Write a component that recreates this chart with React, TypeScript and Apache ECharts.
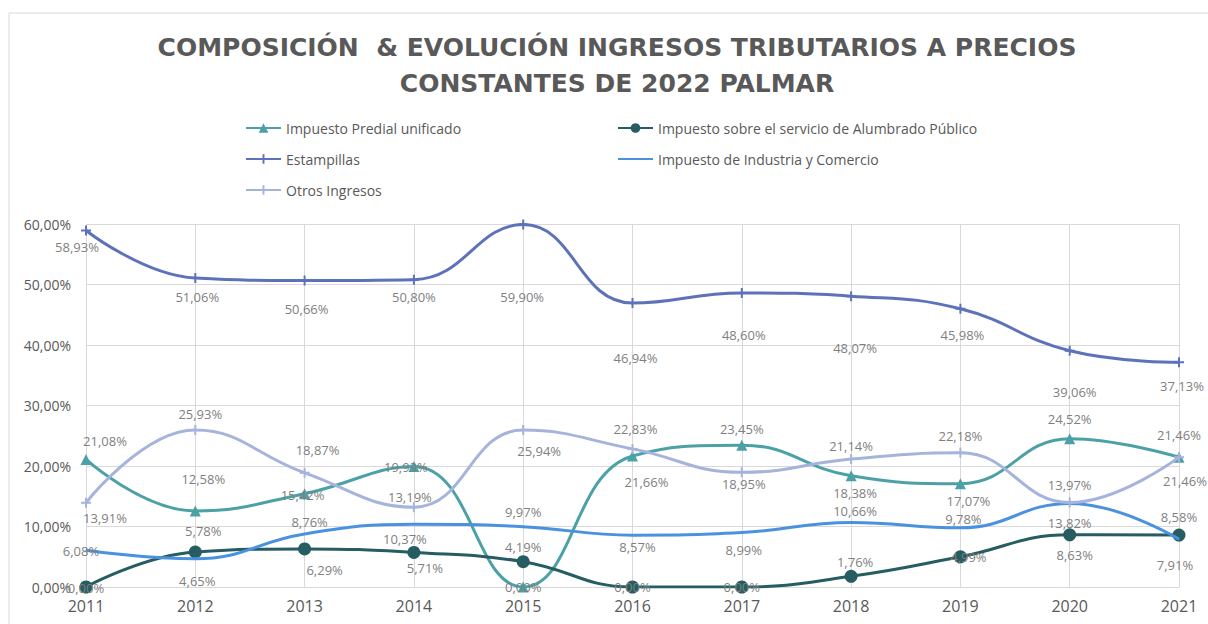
import React, { useEffect, useRef } from "react";
import * as echarts from "echarts";

const years = ["2011", "2012", "2013", "2014", "2015", "2016", "2017", "2018", "2019", "2020", "2021"];
const predial = [21.08, 12.58, 15.42, 19.93, 0.0, 21.66, 23.45, 18.38, 17.07, 24.52, 21.46];
const alumbrado = [0.0, 5.78, 6.29, 5.71, 4.19, 0.0, 0.0, 1.76, 4.99, 8.63, 8.58];
const estampillas = [58.93, 51.06, 50.66, 50.8, 59.9, 46.94, 48.6, 48.07, 45.98, 39.06, 37.13];
const industria = [6.08, 4.65, 8.76, 10.37, 9.97, 8.57, 8.99, 10.66, 9.78, 13.82, 7.91];
const otros = [13.91, 25.93, 18.87, 13.19, 25.94, 22.83, 18.95, 21.14, 22.18, 13.97, 21.46];
const yTicks = [0, 10, 20, 30, 40, 50, 60];

const seriesNames = [
  "Impuesto Predial unificado",
  "Impuesto sobre el servicio de Alumbrado Público",
  "Estampillas",
  "Impuesto de Industria y Comercio",
  "Otros Ingresos",
];

// label offsets (layout only)
const predialOff = [[19, -18], [8, -32], [-2, 1], [-8, 1], [0, 0], [14, 26], [0, -16], [4, 17], [8, 17], [0, -20], [0, -22]];
const alumbradoOff = [[0, 1], [8, -21], [20, 21], [11, 16], [0, -15], [0, 0], [0, 0], [4, -14], [8, 0], [5, 20], [0, -18]];
const estampillasOff = [[-9, 17], [2, 19], [2, 28], [0, 17], [-1, 72], [3, 55], [2, 42], [4, 52], [2, 26], [5, 41], [3, 24]];
const industriaOff = [[-5, 1], [2, 22], [5, -12], [-9, 15], [0, -15], [5, 12], [2, 17], [4, -12], [3, -9], [0, 20], [-4, 26]];
const otrosOff = [[19, 15], [5, -16], [13, -23], [-4, -10], [16, 21], [3, -20], [2, 12], [0, -13], [0, -17], [0, -17], [6, 24]];

const fmt = (v: number) => v.toFixed(2).replace(".", ",") + "%";
const PLUS = "path://M4,0H6V4H10V6H6V10H4V6H0V4H4Z";

function build(values: number[], offs: number[][]) {
  return values.map((v, i) => ({ value: v, label: { offset: offs[i] } }));
}

export default function App() {
  const ref = useRef<HTMLDivElement>(null);
  useEffect(() => {
    if (!ref.current) return;
    const chart = echarts.init(ref.current, null, { renderer: "svg" });
    const labelBase = {
      show: true,
      position: "inside",
      color: "#7f7f7f",
      fontSize: 13,
      fontFamily: "Open Sans",
      formatter: (p: any) => fmt(p.value),
    };
    const mk = (name: string, data: any[], color: string, symbol: string, size: number, z: number) => ({
      name,
      type: "line",
      smooth: 0.45,
      data,
      symbol,
      symbolSize: size,
      showSymbol: true,
      z,
      lineStyle: { color, width: 3 },
      itemStyle: { color },
      label: labelBase,
      emphasis: { disabled: true },
    });
    const legendText = { color: "#595959", fontSize: 14, fontFamily: "Open Sans" };
    const legendPos = [
      [240, 116],
      [612, 116],
      [240, 147],
      [612, 147],
      [240, 178],
    ];
    chart.setOption({
      animation: false,
      backgroundColor: "#ffffff",
      title: {
        text: "COMPOSICIÓN  & EVOLUCIÓN INGRESOS TRIBUTARIOS A PRECIOS\nCONSTANTES DE 2022 PALMAR",
        left: 612,
        top: 24,
        textAlign: "center",
        textStyle: {
          color: "#595959",
          fontSize: 25,
          fontWeight: "bold",
          fontFamily: "DejaVu Sans",
          lineHeight: 36,
        },
      },
      graphic: [
        {
          type: "rect",
          shape: { x: 9, y: 13, width: 1260, height: 700 },
          style: { fill: "none", stroke: "#d9d9d9", lineWidth: 1 },
          silent: true,
        },
      ],
      legend: seriesNames.map((n, i) => ({
        data: i === 3 ? [{ name: n, itemStyle: { opacity: 0 } }] : [n],
        left: legendPos[i][0],
        top: legendPos[i][1],
        itemWidth: 35,
        itemHeight: 12,
        textStyle: legendText,
        selectedMode: false,
      })),
      grid: { left: 86, right: 29, top: 224, bottom: 37 },
      xAxis: {
        type: "category",
        data: years,
        boundaryGap: false,
        axisLine: { show: true, lineStyle: { color: "#d9d9d9" } },
        axisTick: { show: false },
        splitLine: { show: true, lineStyle: { color: "#d9d9d9" } },
        axisLabel: { color: "#595959", fontSize: 16, fontFamily: "Open Sans", margin: 11 },
      },
      yAxis: {
        type: "value",
        min: yTicks[0],
        max: yTicks[yTicks.length - 1],
        interval: 10,
        axisLine: { show: false },
        axisTick: { show: false },
        splitLine: { show: true, lineStyle: { color: "#d9d9d9" } },
        axisLabel: { color: "#595959", fontSize: 14, fontFamily: "Open Sans", margin: 15, formatter: (v: number) => fmt(v) },
      },
      series: [
        mk(seriesNames[0], build(predial, predialOff), "#4ba1a6", "triangle", 11, 2),
        mk(seriesNames[1], build(alumbrado, alumbradoOff), "#255d62", "circle", 13, 3),
        mk(seriesNames[2], build(estampillas, estampillasOff), "#5d72b9", PLUS, 10, 4),
        mk(seriesNames[3], build(industria, industriaOff), "#4a92e0", "circle", 1, 5),
        mk(seriesNames[4], build(otros, otrosOff), "#a6b4dc", PLUS, 10, 6),
      ],
    });
    return () => chart.dispose();
  }, []);
  return <div ref={ref} style={{ position: "fixed", left: 0, top: 0, width: 1208, height: 624 }} />;
}
